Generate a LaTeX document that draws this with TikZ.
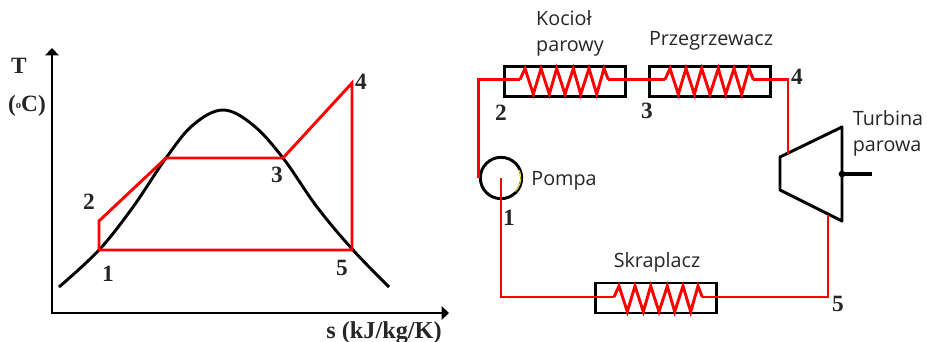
\documentclass[tikz,border=0pt]{standalone}
\usepackage{fontspec}
\setmainfont{Liberation Serif}
\newfontfamily\labelfont{Open Sans}
\usetikzlibrary{arrows.meta,positioning}

\begin{document}
\begin{tikzpicture}[
    x=0.75pt, y=-0.75pt,
    redline/.style={draw=red, line width=2.2pt, line join=miter},
    axisline/.style={{Triangle[width=10pt,length=5.5pt]}-{Triangle[width=10pt,length=5.5pt]}, line width=2.2pt},
    curveline/.style={line width=2.2pt},
    heater/.style={rectangle, draw, line width=2.2pt, minimum width=91pt, minimum height=22.5pt, inner sep=0pt},
    pumpnode/.style={circle, draw, line width=2.2pt, minimum size=31pt, inner sep=0pt},
    numlabel/.style={font=\fontsize{17.5}{18}\selectfont\bfseries, inner sep=0pt, text=black!85},
    namelabel/.style={font=\labelfont\fontsize{14.8}{19.5}\selectfont, text=black!85, inner sep=0pt, align=left},
    coil/.pic={
        \draw[redline] (0,0) -- (5,-11) -- (13.3,14.7) -- (21,-11) -- (29.3,14.7) -- (36.7,-11)
            -- (45,14.7) -- (53.3,-11) -- (60.7,14.7) -- (69,-11) -- (76.7,14.7) -- (84,-11) -- (88.3,0);
        \coordinate (-in) at (0,0);
        \coordinate (-out) at (88.3,0);
    }
]
\useasboundingbox (0,0) rectangle (927,342);

%% ---- wykres T-s ----
\coordinate (top) at (52,48);
\coordinate (orig) at (52,313);
\coordinate (right) at (449,313);
\draw[axisline] (top) -- (orig) -- (right);
\draw[curveline] plot[smooth, tension=0.6] coordinates {(59,287) (99,250) (133,207) (166,158) (193,125)
    (223,110) (253,125) (283,158) (317,207) (353,250) (389,287)};

\coordinate (a1) at (99,250);
\coordinate (a2) at (99,221);
\coordinate (af) at (166,158);
\coordinate (a3) at (283,158);
\coordinate (a4) at (352,83);
\coordinate (a5) at (352,250);
\draw[redline] (a1) -- (a2) -- (af) -- (a3) -- (a4) -- (a5) -- cycle;

\node[numlabel] (lT) at (19,66) {T};
\node[numlabel] (lC) at (27,106) {(\raisebox{2pt}{\fontsize{8}{8}\selectfont o}C)};
\node[numlabel, font=\fontsize{18.2}{18}\selectfont\bfseries] (ls) at (384,333) {s (kJ/kg/K)};
\node[numlabel] (n1) at (108,274) {1};
\node[numlabel] (n2) at (89,202) {2};
\node[numlabel] (n3) at (277,175) {3};
\node[numlabel] (n4) at (361,82) {4};
\node[numlabel] (n5) at (342,268) {5};

%% ---- schemat ----
\node[heater] (kociol) at (565,81.5) {};
\node[heater] (przegrzewacz) at (710,81.5) {};
\node[heater] (skraplacz) at (656,298) {};
\node[pumpnode] (pompa) at (501,178) {};
\draw[yellow!90!black, line width=0.7pt] (519,170) arc[start angle=-25, end angle=45, radius=19];

\coordinate (t1) at (780,157);
\coordinate (t2) at (842,127);
\coordinate (t3) at (842,221);
\coordinate (t4) at (780,190);
\draw[line width=2.2pt, line join=round] (t1) -- (t2) -- (t3) -- (t4) -- cycle;
\coordinate (wal0) at (842,174);
\coordinate (wal1) at (872,174);
\fill (wal0) circle (2.5pt);
\draw[line width=3pt] (wal0) -- (wal1);
\coordinate (turbin) at (788,154);
\coordinate (turbout) at (828,215);

\pic (coilk) at (520,79.5) {coil};
\pic (coilp) at (665,79.5) {coil};
\pic (coils) at (614,297) {coil};

\draw[redline] (pompa.west) |- (coilk-in);
\draw[redline] (coilk-out) -- (coilp-in);
\draw[redline] (coilp-out) -| (turbin);
\draw[redline] (turbout) |- (coils-out);
\draw[redline] (coils-in) -| (pompa.center);

\node[namelabel] (lk) at (570,33) {Kocioł\\parowy};
\node[namelabel] (lp) at (711,41) {Przegrzewacz};
\node[namelabel] (lt) at (888,133) {Turbina\\parowa};
\node[namelabel] (lo) at (564,181) {Pompa};
\node[namelabel] (lsk) at (657,262) {Skraplacz};

\node[numlabel] (m1) at (509,218) {1};
\node[numlabel] (m2) at (501,113) {2};
\node[numlabel] (m3) at (647,111) {3};
\node[numlabel] (m4) at (797,77) {4};
\node[numlabel] (m5) at (838,304) {5};

\end{tikzpicture}
\end{document}
